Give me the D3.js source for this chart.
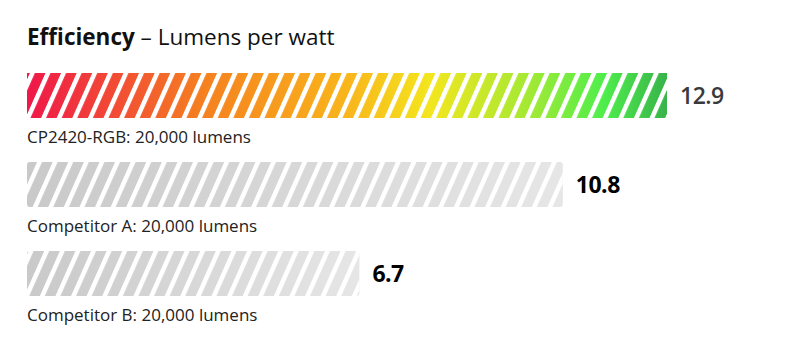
<!DOCTYPE html>
<html>
<head>
<meta charset="utf-8">
<script src="https://cdn.jsdelivr.net/npm/d3@7"></script>
<style>
  body { margin: 0; background: #fff; }
  svg { display: block; font-family: "Open Sans", Lato, sans-serif; }
</style>
</head>
<body>
<div id="chart"></div>
<script>
// values
const products = ["CP2420-RGB", "Competitor A", "Competitor B"];
const efficiency = [12.9, 10.8, 6.7];
const captions = ["CP2420-RGB: 20,000 lumens", "Competitor A: 20,000 lumens", "Competitor B: 20,000 lumens"];
const valueLabels = ["12.9", "10.8", "6.7"];

(function () {
  const width = 800, height = 350;
  const barH = 45;

  const svg = d3.select("#chart").append("svg")
    .attr("width", width)
    .attr("height", height);

  const defs = svg.append("defs");

  // rainbow gradient for the highlighted product
  const rainbow = defs.append("linearGradient").attr("id", "rainbow");
  [
    [0, "#ef1749"], [0.28, "#f5821f"], [0.5, "#f9b51b"], [0.63, "#f3e61e"],
    [0.78, "#a6e933"], [0.9, "#4fee4b"], [1, "#38b34a"]
  ].forEach(([o, c]) => rainbow.append("stop").attr("offset", o).attr("stop-color", c));

  const grey = defs.append("linearGradient").attr("id", "grey");
  grey.append("stop").attr("offset", 0).attr("stop-color", "#c9c9c9");
  grey.append("stop").attr("offset", 1).attr("stop-color", "#e6e6e6");

  // white diagonal gaps laid over the bars
  const stripes = defs.append("pattern")
    .attr("id", "stripes")
    .attr("patternUnits", "userSpaceOnUse")
    .attr("width", 15.6)
    .attr("height", 10)
    .attr("patternTransform", "skewX(-24)");
  stripes.append("rect")
    .attr("x", 0).attr("y", 0)
    .attr("width", 5).attr("height", 10)
    .attr("fill", "#fff");

  const x = d3.scaleLinear().domain([0, 12.9]).range([27, 667]);
  const y = d3.scalePoint().domain(products).range([73, 251]);

  // title
  const title = svg.append("text")
    .attr("x", 27).attr("y", 45)
    .attr("font-size", 22.5)
    .attr("fill", "#111");
  title.append("tspan").attr("font-weight", 700).text("Efficiency");
  title.append("tspan").attr("font-weight", 400).text(" \u2013 Lumens per watt");

  const rows = svg.selectAll("g.row")
    .data(products)
    .join("g")
    .attr("class", "row");

  rows.append("rect")
    .attr("x", x(0))
    .attr("y", d => y(d))
    .attr("width", (d, i) => x(efficiency[i]) - x(0))
    .attr("height", barH)
    .attr("rx", (d, i) => i === 0 ? 0 : 3)
    .attr("fill", (d, i) => i === 0 ? "url(#rainbow)" : "url(#grey)");

  rows.append("rect")
    .attr("x", x(0))
    .attr("y", d => y(d))
    .attr("width", (d, i) => x(efficiency[i]) - x(0))
    .attr("height", barH)
    .attr("fill", "url(#stripes)");

  rows.append("text")
    .attr("x", (d, i) => x(efficiency[i]) + 13)
    .attr("y", d => y(d) + barH / 2 + 8)
    .attr("font-size", 23)
    .attr("font-weight", (d, i) => i === 0 ? 600 : 700)
    .attr("fill", (d, i) => i === 0 ? "#3a3a3c" : "#000")
    .attr("letter-spacing", -0.5)
    .text((d, i) => valueLabels[i]);

  rows.append("text")
    .attr("x", 27)
    .attr("y", d => y(d) + barH + 25)
    .attr("font-size", 17)
    .attr("fill", "#222")
    .text((d, i) => captions[i]);
})();
</script>
</body>
</html>
